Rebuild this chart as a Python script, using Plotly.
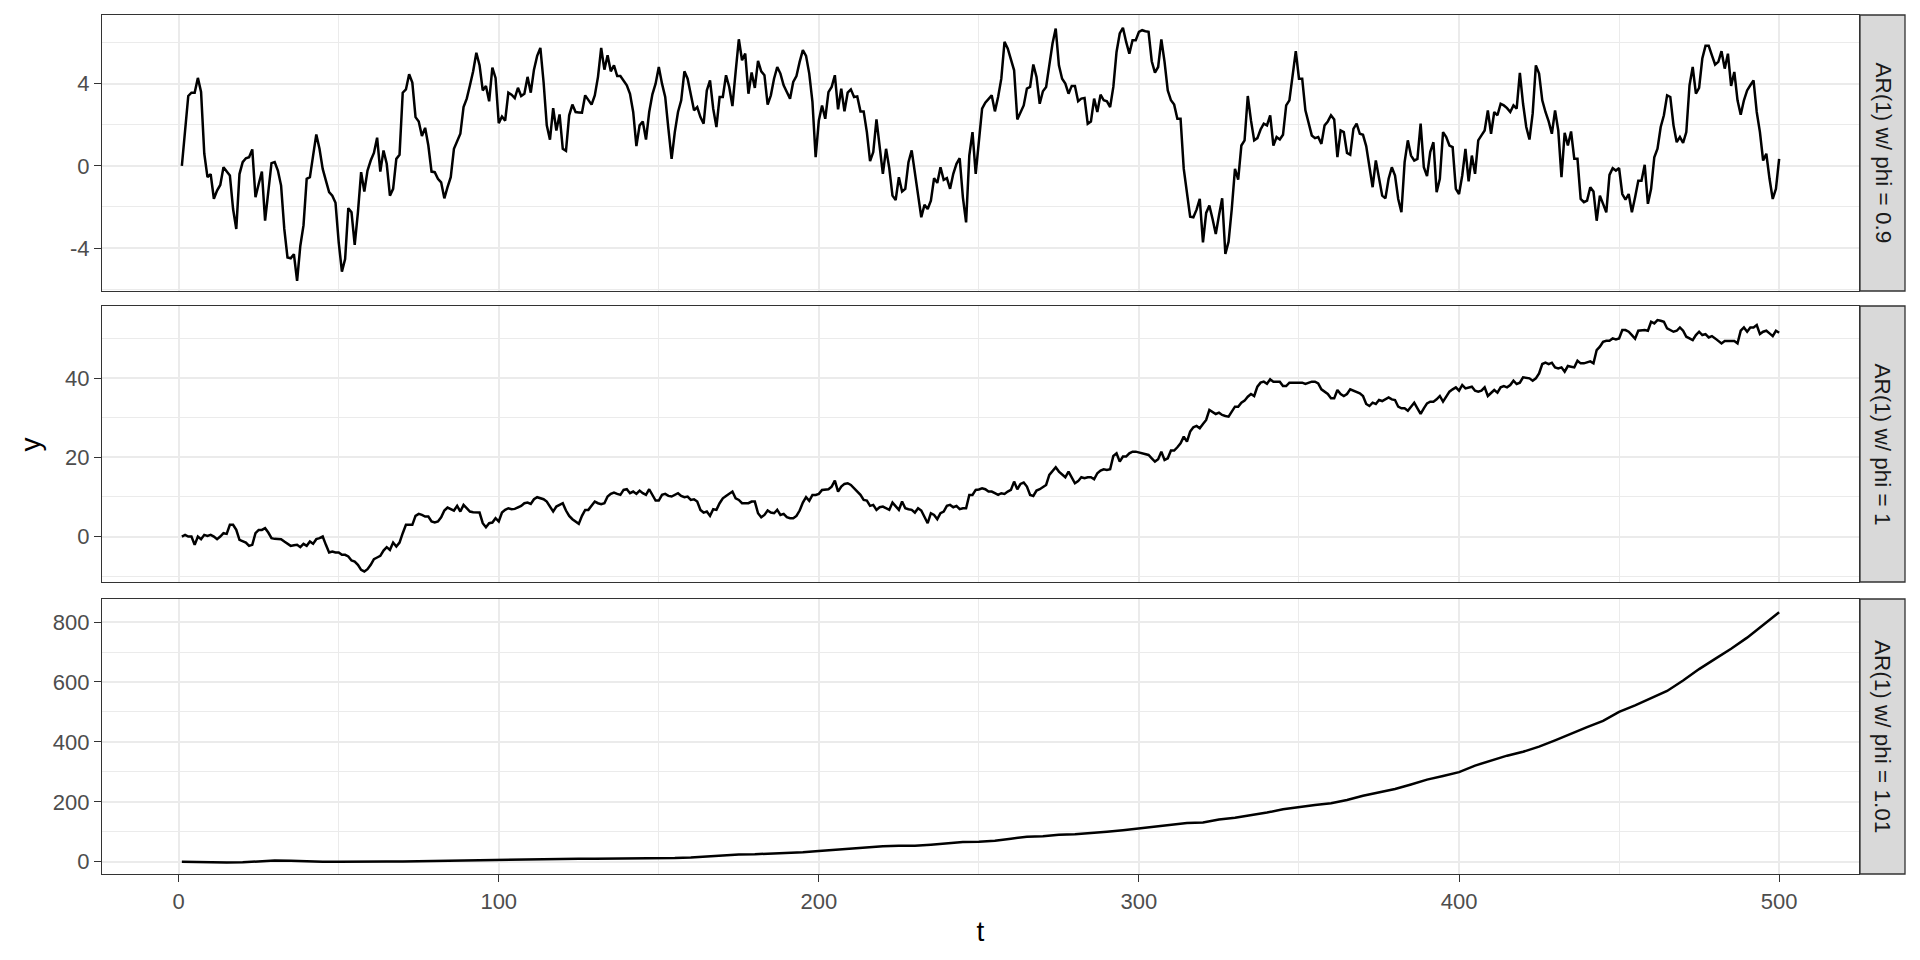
import plotly.graph_objects as go

# ---------------- data ----------------
# Panel 1: AR(1) phi = 0.9, t = 1..500 in four consecutive pieces
phi09_a = [0, 1.64, 3.4, 3.56, 3.56, 4.28, 3.6, 0.6, -0.55, -0.4,
           -1.6, -1.2, -0.93, -0.07, -0.28, -0.47, -2.1, -3.07, -0.4, 0.18,
           0.37, 0.42, 0.8, -1.53, -0.88, -0.28, -2.67, -1.12, 0.13, 0.18,
           -0.23, -0.96, -3.07, -4.46, -4.5, -4.3, -5.6, -3.9, -2.9, -0.63,
           -0.55, 0.5, 1.53, 0.83, -0.15, -0.72, -1.28, -1.45, -1.8, -3.72,
           -5.15, -4.54, -2.06, -2.26, -3.85, -2.26, -0.31, -1.25, -0.23, 0.26,
           0.63, 1.37, -0.28, 0.75, 0.1, -1.45, -1.12, 0.34, 0.54, 3.56,
           3.72, 4.46, 4.05, 2.37, 2.16, 1.45, 1.85, 0.99, -0.28, -0.31,
           -0.63, -0.8, -1.58, -1.04, -0.55, 0.83, 1.24, 1.56, 2.86, 3.27,
           3.92, 4.6, 5.5, 4.9, 3.67, 3.89, 3.14, 4.78, 4.28, 2.08,
           2.4, 2.2, 3.56, 3.46, 3.3, 3.8, 3.4, 3.51, 4.33, 3.56,
           4.68, 5.35, 5.74, 4.08, 1.97, 1.27, 2.81, 1.72, 2.5, 0.83,
           0.73, 2.46, 2.98, 2.62, 2.6]
phi09_b = [2.59, 3.43, 3.19, 2.98, 3.43, 4.33, 5.74, 4.68, 5.38, 4.6,
           4.89, 4.37, 4.37, 4.16, 3.92, 3.51, 2.62, 0.96, 1.97, 2.16,
           1.28, 2.62, 3.48, 4.0, 4.81, 4.0, 3.35, 1.8, 0.34, 1.64,
           2.62, 3.19, 4.6, 4.24, 3.43, 2.7, 2.86, 2.37, 2.05, 3.67,
           4.16, 2.78, 1.89, 3.35, 3.35, 4.41, 3.84, 2.91, 4.57, 6.16,
           5.14, 5.46, 3.51, 4.54, 3.79, 5.11, 4.6, 4.41, 2.98, 3.43,
           4.24, 4.81, 4.49, 3.92, 3.59, 3.27, 4.08, 4.37, 5.06, 5.63,
           5.35, 4.49, 3.11, 0.42, 2.21, 2.94, 2.29, 3.59, 3.84, 4.41,
           2.75, 3.76, 2.65, 3.56, 3.72, 3.35, 3.38, 2.65, 2.65, 1.64,
           0.23, 0.67, 2.26, 0.83, -0.39, 0.83, -0.11, -1.45, -1.66, -0.55,
           -1.25, -1.12, 0.18, 0.75, -0.39, -1.61, -2.5, -1.9, -2.1, -1.69,
           -0.6, -0.83, -0.07, -0.68, -0.6, -1.12, -0.39, 0.1, 0.37, -1.53,
           -2.75, 0.5, 1.64, -0.39, 1.15]
phi09_c = [2.78, 3.07, 3.27, 3.43, 2.65, 3.35, 4.24, 6.03, 5.71, 5.14,
           4.65, 2.26, 2.62, 2.94, 3.76, 3.84, 4.93, 4.33, 3.02, 3.63,
           3.84, 4.98, 5.95, 6.68, 4.89, 4.24, 4.0, 3.51, 3.89, 3.89,
           3.14, 3.27, 3.3, 2.05, 2.16, 3.27, 2.62, 3.46, 3.19, 3.14,
           2.86, 3.84, 5.54, 6.44, 6.72, 6.03, 5.46, 6.11, 6.11, 6.52,
           6.6, 6.55, 6.52, 5.09, 4.54, 4.81, 6.15, 5.06, 3.67, 3.19,
           2.98, 2.29, 2.29, -0.15, -1.28, -2.47, -2.5, -2.13, -1.61, -3.72,
           -2.29, -1.93, -2.59, -3.32, -2.42, -1.58, -4.29, -3.69, -2.1, -0.15,
           -0.67, 0.99, 1.24, 3.4, 2.21, 1.24, 1.35, 1.77, 2.05, 1.97,
           2.46, 0.99, 1.4, 1.28, 1.51, 2.94, 3.19, 4.49, 5.58, 4.24,
           4.24, 2.7, 2.13, 1.48, 1.35, 1.4, 1.07, 1.97, 2.16, 2.46,
           2.26, 0.42, 1.72, 1.64, 0.63, 0.54, 1.8, 2.05, 1.56, 1.51,
           0.96, -0.07, -1.04, 0.26, -0.6]
phi09_d = [-1.45, -1.58, -0.63, -0.07, -0.47, -1.61, -2.26, 0.18, 1.24, 0.5,
           0.26, 0.34, 2.05, -0.07, -0.5, 0.67, 1.15, -1.28, -0.63, 1.64,
           1.4, 0.99, 0.91, -1.12, -1.37, -0.47, 0.83, -0.75, 0.5, -0.39,
           1.24, 1.48, 1.72, 2.7, 1.56, 2.62, 2.46, 3.02, 2.94, 2.81,
           2.62, 2.94, 2.78, 4.52, 3.02, 1.89, 1.28, 2.54, 4.89, 4.49,
           3.19, 2.62, 2.16, 1.56, 2.7, 1.72, -0.55, 1.61, 0.99, 1.67,
           0.34, 0.34, -1.61, -1.77, -1.69, -1.04, -1.25, -2.67, -1.45, -1.85,
           -2.26, -0.44, -0.11, -0.23, -0.11, -1.37, -1.64, -1.37, -2.26, -1.53,
           -0.72, -0.72, 0.05, -1.85, -1.12, 0.42, 0.83, 1.89, 2.46, 3.43,
           3.35, 1.97, 1.15, 1.4, 1.12, 1.64, 3.92, 4.81, 3.51, 3.79,
           5.22, 5.84, 5.84, 5.38, 4.93, 5.06, 5.58, 4.73, 5.46, 3.89,
           4.57, 3.19, 2.49, 3.19, 3.67, 3.92, 4.16, 2.62, 1.64, 0.26,
           0.59, -0.63, -1.61, -1.12, 0.34]

# Panel 2: AR(1) phi = 1 (random walk), t = 1..500
phi1_a = [0.0, 0.42, 0.0, 0.0, -2.1, 0.0, -0.67, 0.42, 0.17, 0.42,
          0.0, -0.67, 0.0, 0.84, 0.67, 2.95, 2.95, 1.68, -0.84, -1.26,
          -1.52, -2.36, -2.1, 0.84, 1.68, 1.68, 2.1, 1.01, -0.42, -0.59,
          -0.62, -0.67, -1.26, -1.85, -2.36, -2.19, -2.1, -2.69, -1.85, -2.36,
          -1.26, -1.85, -0.67, -0.42, 0.0, -2.1, -4.04, -3.79, -4.04, -4.04,
          -4.63, -4.63, -5.05, -6.06, -6.32, -7.16, -8.42, -8.84, -8.25, -7.16,
          -5.73, -5.3, -4.88, -3.54, -2.69, -3.37, -1.52, -2.53, -1.52, 0.84,
          2.95, 2.95, 2.95, 5.22, 5.73, 5.47, 5.05, 5.05, 3.79, 3.54,
          3.79, 4.88, 6.57, 7.33, 6.91, 6.57, 7.75, 6.32, 8.0, 7.16,
          6.32, 6.15, 6.1, 6.06, 3.37, 2.36, 3.37, 3.54, 4.63, 3.79,
          6.06, 6.74, 7.16, 6.91, 6.99, 7.41, 7.75, 8.42, 8.59, 8.25,
          9.43, 9.94, 9.68, 9.43, 8.84, 7.58, 6.32, 7.58, 8.0, 8.42,
          6.57, 5.22, 4.38, 3.79, 3.2]
phi1_b = [5.22, 6.74, 6.74, 7.75, 8.84, 8.42, 8.17, 8.42, 10.11, 10.78,
          11.12, 10.78, 10.53, 11.79, 11.96, 10.95, 11.37, 10.78, 11.62, 10.95,
          10.53, 11.96, 10.53, 9.09, 9.09, 10.53, 10.78, 10.27, 10.11, 10.53,
          10.95, 10.27, 9.94, 10.11, 9.26, 9.43, 8.84, 6.74, 6.06, 6.32,
          5.22, 6.91, 6.74, 8.42, 9.68, 10.27, 10.78, 11.37, 9.68, 9.26,
          8.42, 8.42, 8.42, 8.84, 8.84, 5.89, 4.88, 5.47, 6.57, 6.06,
          5.89, 6.74, 5.47, 5.73, 4.88, 4.63, 4.63, 5.22, 6.57, 8.59,
          9.94, 9.01, 10.53, 10.53, 10.78, 11.79, 11.96, 11.96, 12.63, 14.15,
          11.37, 12.63, 13.31, 13.47, 13.05, 12.21, 11.62, 10.53, 9.26, 9.09,
          7.75, 8.0, 6.74, 7.41, 7.58, 7.16, 6.74, 8.59, 7.58, 6.74,
          8.84, 7.16, 6.91, 6.74, 6.06, 7.16, 6.57, 5.05, 3.37, 5.89,
          5.47, 4.38, 5.89, 6.32, 7.75, 8.0, 7.41, 7.75, 6.91, 7.16,
          7.16, 10.53, 10.53, 11.79, 11.9]
phi1_c = [12.21, 11.96, 11.37, 11.37, 10.95, 10.53, 10.95, 10.78, 11.37, 11.79,
          13.89, 11.96, 13.31, 13.64, 12.63, 10.53, 10.27, 11.62, 11.96, 12.46,
          13.05, 15.58, 16.42, 17.52, 16.42, 15.58, 14.99, 16.42, 14.74, 13.47,
          14.0, 14.99, 14.74, 14.99, 14.99, 14.48, 16.0, 16.67, 17.01, 16.84,
          17.01, 20.38, 21.05, 18.95, 20.21, 20.21, 21.05, 21.47, 21.47, 21.22,
          21.05, 20.8, 20.63, 19.79, 18.95, 19.54, 21.47, 19.37, 19.79, 21.73,
          21.73, 22.57, 23.58, 25.26, 24.0, 26.53, 27.62, 27.96, 27.37, 28.46,
          29.47, 32.0, 31.5, 30.99, 31.33, 30.74, 30.48, 30.32, 31.58, 32.84,
          32.84, 33.85, 34.36, 35.37, 36.04, 35.54, 37.89, 38.91, 39.16, 38.65,
          39.75, 39.16, 39.16, 39.16, 38.06, 38.06, 38.91, 38.91, 39.0, 38.91,
          38.91, 38.57, 38.91, 39.16, 39.16, 38.74, 37.22, 36.63, 36.04, 34.95,
          34.95, 37.05, 36.04, 35.54, 36.04, 37.22, 36.9, 36.63, 36.21, 35.54,
          33.52, 33.01, 33.85, 33.52, 34.53]
phi1_d = [34.27, 34.69, 35.2, 34.69, 34.53, 32.84, 32.42, 32.42, 31.83, 32.84,
          33.85, 32.42, 30.99, 32.42, 33.68, 34.11, 34.11, 34.69, 35.54, 34.11,
          35.54, 36.63, 37.22, 37.73, 36.88, 38.32, 37.47, 37.73, 37.89, 36.88,
          36.63, 36.88, 37.73, 35.54, 36.38, 37.05, 36.38, 37.73, 38.06, 37.73,
          38.32, 39.41, 38.57, 38.91, 40.25, 40.1, 40.0, 39.41, 40.0, 41.26,
          43.62, 43.96, 43.62, 43.96, 42.78, 42.53, 42.78, 41.68, 43.12, 42.95,
          42.78, 44.46, 43.79, 43.79, 44.13, 44.29, 43.79, 47.16, 48.0, 49.26,
          49.52, 49.52, 50.11, 49.85, 50.11, 52.21, 52.21, 51.79, 50.95, 50.02,
          52.04, 52.21, 52.21, 52.04, 54.32, 53.89, 54.74, 54.57, 54.32, 52.63,
          52.21, 51.79, 52.04, 52.88, 52.04, 50.53, 50.1, 49.68, 50.95, 51.79,
          50.95, 51.2, 50.36, 50.69, 50.11, 49.52, 48.84, 49.43, 49.43, 49.26,
          49.43, 48.84, 52.04, 52.88, 51.79, 52.88, 52.88, 53.47, 51.2, 51.79,
          52.04, 51.37, 50.69, 52.04, 51.54]

# Panel 3: AR(1) phi = 1.01 (explosive), read every 5 steps
t_phi101 = [1, 5, 10, 15, 20, 25, 30, 35, 40, 45, 50, 55, 60, 65, 70, 75, 80, 85, 90, 95,
            100, 105, 110, 115, 120, 125, 130, 135, 140, 145, 150, 155, 160, 165, 170,
            175, 180, 185, 190, 195, 200, 205, 210, 215, 220, 225, 230, 235, 240, 245,
            250, 255, 260, 265, 270, 275, 280, 285, 290, 295, 300, 305, 310, 315, 320,
            325, 330, 335, 340, 345, 350, 355, 360, 365, 370, 375, 380, 385, 390, 395,
            400, 405, 410, 415, 420, 425, 430, 435, 440, 445, 450, 455, 460, 465, 470,
            475, 480, 485, 490, 495, 500]
y_phi101 = [0, -1, -2, -3, -2, 0, 4, 3, 1, 0, 0, 1, 0, 1, 1, 2, 1, 2, 3, 4,
            5, 6, 8, 9, 10, 10, 10, 10, 11, 11, 11, 12, 14, 18, 21,
            24, 25, 27, 29, 32, 36, 40, 45, 50, 52, 53, 53, 57, 61, 66,
            67, 70, 77, 83, 85, 90, 92, 95, 100, 105, 111, 117, 124, 129, 131,
            141, 147, 155, 164, 175, 183, 189, 195, 206, 220, 232, 243, 258, 274, 286,
            299, 321, 338, 354, 367, 384, 405, 428, 449, 470, 500, 522, 545, 570, 605,
            643, 677, 711, 748, 790, 833]

strip_labels = ["AR(1) w/ phi = 0.9", "AR(1) w/ phi = 1", "AR(1) w/ phi = 1.01"]
x_ticks = [0, 100, 200, 300, 400, 500]
y_ticks = [[-4, 0, 4], [0, 20, 40], [0, 200, 400, 600, 800]]

# ---------------- assemble ----------------
y09 = phi09_a + phi09_b + phi09_c + phi09_d
y1 = phi1_a + phi1_b + phi1_c + phi1_d
t09 = list(range(1, len(y09) + 1))
t1 = list(range(1, len(y1) + 1))

FONT = "Liberation Sans, Arial, Helvetica, sans-serif"
W, H = 1920, 960
OFF = 8  # page body offset of the plot div
ML, MR, MT, MB = 102 - OFF, 61 + OFF, 15 - OFF, 86 + OFF
PW, PH = W - ML - MR, H - MT - MB
GRID = "#EBEBEB"
DARK = "#333333"


def ydom(top, bot):
    # top/bot are target page pixel rows
    return [(H - MB - (bot - OFF)) / PH, (H - MB - (top - OFF)) / PH]


def xpaper(px):
    return (px - OFF - ML) / PW


panels = [(15, 291), (306, 582), (599, 874)]
yranges = [[-6.09, 7.34], [-11.5, 58.3], [-41, 877]]
ydticks = [4, 20, 200]

fig = go.Figure()
series = [(t09, y09), (t1, y1), (t_phi101, y_phi101)]
for i, (tt, yy) in enumerate(series):
    sfx = "" if i == 0 else str(i + 1)
    fig.add_trace(go.Scatter(x=tt, y=yy, mode="lines",
                             line=dict(color="black", width=2.5),
                             xaxis="x" + sfx, yaxis="y" + sfx,
                             showlegend=False, hoverinfo="skip"))

layout = dict(width=W, height=H, plot_bgcolor="white", paper_bgcolor="white",
              margin=dict(l=ML, r=MR, t=MT, b=MB), showlegend=False,
              font=dict(family=FONT, color="#4D4D4D"))

for i in range(3):
    sfx = "" if i == 0 else str(i + 1)
    bottom = (i == 2)
    xa = dict(domain=[0, 1], anchor="y" + sfx, range=[-23.95, 524.95],
              tickvals=x_ticks, ticktext=[str(v) for v in x_ticks],
              showgrid=True, gridcolor=GRID, gridwidth=2,
              minor=dict(tickvals=[50, 150, 250, 350, 450], showgrid=True,
                         gridcolor=GRID, gridwidth=1, ticks=""),
              zeroline=False, showline=True, mirror=True, linecolor=DARK,
              linewidth=1.3, showticklabels=bottom,
              ticks="outside" if bottom else "", ticklen=7, tickwidth=1.3,
              tickcolor=DARK, tickfont=dict(size=22, color="#4D4D4D", family=FONT))
    if i > 0:
        xa["matches"] = "x"
    if bottom:
        xa["title"] = dict(text="t", font=dict(size=28, color="black", family=FONT),
                           standoff=8)
    d = ydticks[i]
    ya = dict(domain=ydom(*panels[i]), anchor="x" + sfx, range=yranges[i],
              tickvals=y_ticks[i], ticktext=[str(v) for v in y_ticks[i]],
              showgrid=True, gridcolor=GRID, gridwidth=2,
              minor=dict(dtick=d / 2, tick0=0, showgrid=True, gridcolor=GRID,
                         gridwidth=1, ticks=""),
              zeroline=False, showline=True, mirror=True, linecolor=DARK,
              linewidth=1.3, ticks="outside", ticklen=7, tickwidth=1.3,
              tickcolor=DARK, tickfont=dict(size=22, color="#4D4D4D", family=FONT))
    layout["xaxis" + sfx] = xa
    layout["yaxis" + sfx] = ya

fig.update_layout(**layout)

# facet strips
sx0, sx1 = xpaper(1860), xpaper(1905)
for i, (top, bot) in enumerate(panels):
    y0, y1d = ydom(top, bot)
    fig.add_shape(type="rect", xref="paper", yref="paper", x0=sx0, x1=sx1,
                  y0=y0, y1=y1d, fillcolor="#D9D9D9",
                  line=dict(color=DARK, width=1.3), layer="below")
    fig.add_annotation(xref="paper", yref="paper", x=(sx0 + sx1) / 2,
                       y=(y0 + y1d) / 2, text=strip_labels[i], showarrow=False,
                       textangle=90, xanchor="center", yanchor="middle",
                       font=dict(size=22.5, color="#1A1A1A", family=FONT))

# y axis title
fig.add_annotation(xref="paper", yref="paper", x=xpaper(30), y=0.5,
                   text="y", showarrow=False, textangle=-90,
                   xanchor="center", yanchor="middle",
                   font=dict(size=28, color="black", family=FONT))

fig.write_html("out.html")
